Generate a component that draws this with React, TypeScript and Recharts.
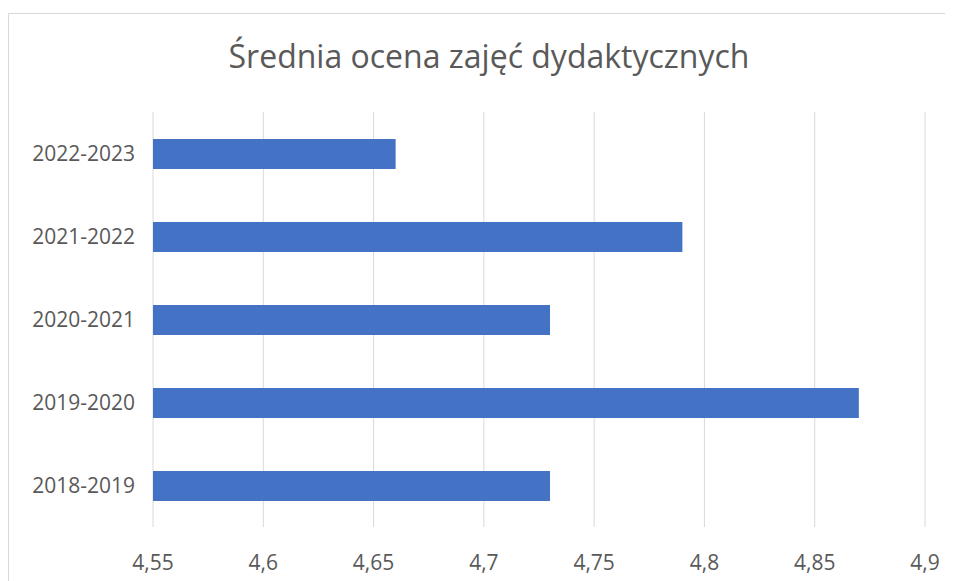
import { BarChart, Bar, XAxis, YAxis, CartesianGrid } from "recharts";

const years = ["2018-2019", "2019-2020", "2020-2021", "2021-2022", "2022-2023"];
const ratings = [4.73, 4.87, 4.73, 4.79, 4.66];
const xTicks = [4.55, 4.6, 4.65, 4.7, 4.75, 4.8, 4.85, 4.9];

const data = years.map((y, i) => ({ year: y, value: ratings[i] }));

const FONT = "'Open Sans', sans-serif";
const TEXT = "#595959";

export default function App() {
  return (
    <div
      style={{
        position: "relative",
        marginTop: 5,
        width: 946,
        height: 568,
        borderLeft: "1px solid #d9d9d9",
        borderTop: "1px solid #d9d9d9",
        fontFamily: FONT,
      }}
    >
      <div
        style={{
          position: "absolute",
          left: 0,
          top: 20,
          width: 960,
          textAlign: "center",
          fontSize: 32,
          color: TEXT,
        }}
      >
        Średnia ocena zajęć dydaktycznych
      </div>
      <BarChart
        width={944}
        height={567}
        data={data}
        layout="vertical"
        margin={{ top: 98, right: 28, left: 0, bottom: 14 }}
      >
        <CartesianGrid horizontal={false} stroke="#d9d9d9" />
        <XAxis
          type="number"
          domain={[4.55, 4.9]}
          ticks={xTicks}
          height={40}
          axisLine={false}
          tickLine={false}
          tickSize={0}
          tickMargin={28}
          tick={{ fill: TEXT, fontSize: 21, fontFamily: FONT }}
          tickFormatter={(v: number) => String(v).replace(".", ",")}
        />
        <YAxis
          type="category"
          dataKey="year"
          reversed
          width={144}
          axisLine={false}
          tickLine={false}
          tickSize={0}
          tickMargin={18}
          tick={{ fill: TEXT, fontSize: 21, fontFamily: FONT }}
        />
        <Bar dataKey="value" fill="#4472C4" barSize={30} isAnimationActive={false} />
      </BarChart>
    </div>
  );
}
